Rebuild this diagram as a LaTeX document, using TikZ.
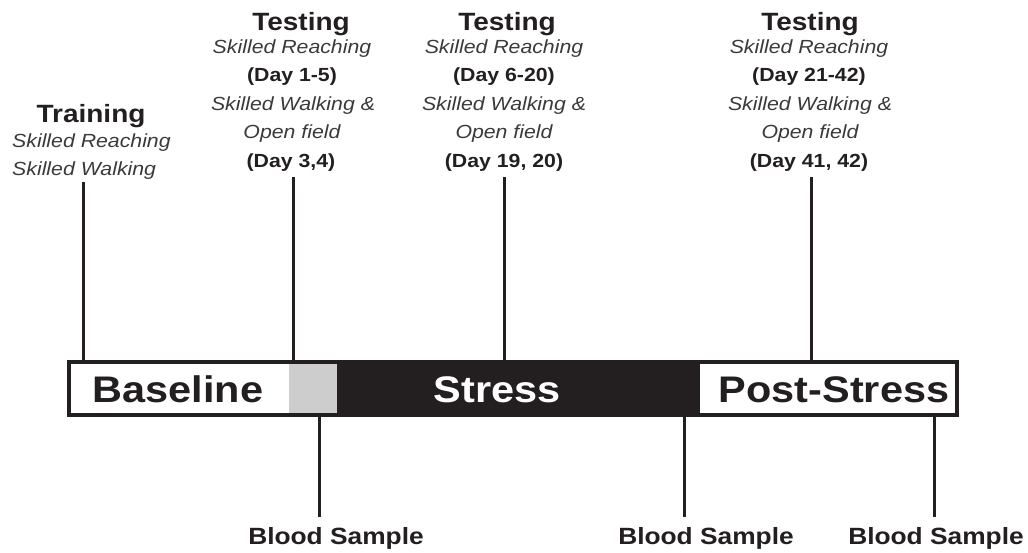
\documentclass[tikz,border=0pt]{standalone}
\usepackage{fontspec}
\setmainfont{Liberation Sans}[FakeStretch=1.12]
\definecolor{ink}{HTML}{231F20}
\definecolor{soft}{HTML}{3A3A3A}
\definecolor{pale}{HTML}{CDCDCD}

\begin{document}
\begin{tikzpicture}[x=1pt,y=-1pt]
    \tikzstyle{head}=[anchor=base,inner sep=0pt,text=ink,font=\bfseries\fontsize{25}{25}\selectfont];
    \tikzstyle{task}=[anchor=base,inner sep=0pt,text=soft,font=\itshape\fontsize{19}{19}\selectfont];
    \tikzstyle{days}=[anchor=base,inner sep=0pt,text=ink,font=\bfseries\fontsize{19}{19}\selectfont];
    \tikzstyle{phase}=[anchor=base,inner sep=0pt,text=ink,font=\bfseries\fontsize{37}{37}\selectfont];
    \tikzstyle{blood}=[anchor=base,inner sep=0pt,text=ink,font=\bfseries\fontsize{23.5}{23.5}\selectfont];
    \tikzstyle{tick}=[draw=ink,line width=3pt];

    \useasboundingbox (0,0) rectangle (1028,552);

    % the time bar
    \fill[ink] (67,360) rectangle (959,417);
    \fill[white] (71,364) rectangle (289,413);
    \fill[pale] (289,364) rectangle (337,413);
    \fill[white] (700,364) rectangle (955,413);
    \node (base) [phase] at (178,402) {Baseline};
    \node (stress) [phase,text=white] at (497,402) {Stress};
    \node (post) [phase] at (834,402) {Post-Stress};

    % training
    \node (tr) [head] at (91,122) {Training}; \node (tr1)
    [task,anchor=base west] at (12,147) {Skilled Reaching}; \node (tr2)
    [task,anchor=base west] at (12,175) {Skilled Walking};

    % testing
    \node (t1) [head] at (301,30) {Testing}; \node (t1a) [task] at
    (292,53) {Skilled Reaching}; \node (t1b) [days] at (292,81) {(Day
    1-5)}; \node (t1c) [task] at (293,110) {Skilled Walking \&};
    \node (t1d) [task] at (292,138) {Open field}; \node (t1e) [days]
    at (291,167) {(Day 3,4)};

    \node (t2) [head] at (507,30) {Testing}; \node (t2a) [task] at
    (504,53) {Skilled Reaching}; \node (t2b) [days] at (504,81) {(Day
    6-20)}; \node (t2c) [task] at (504,110) {Skilled Walking \&};
    \node (t2d) [task] at (504,138) {Open field}; \node (t2e) [days]
    at (504,167) {(Day 19, 20)};

    \node (t3) [head] at (810,30) {Testing}; \node (t3a) [task] at
    (809,53) {Skilled Reaching}; \node (t3b) [days] at (809,81) {(Day
    21-42)}; \node (t3c) [task] at (810,110) {Skilled Walking \&};
    \node (t3d) [task] at (810,138) {Open field}; \node (t3e) [days]
    at (809,167) {(Day 41, 42)};

    % blood samples
    \node (b1) [blood] at (336,544) {Blood Sample}; \node (b2) [blood]
    at (706,544) {Blood Sample}; \node (b3) [blood] at (936,544)
    {Blood Sample};

    % ticks
    \coordinate (trt) at (83,182); \coordinate (trb) at (83,360);
    \coordinate (t1t) at (293,177); \coordinate (t1b) at (293,360);
    \coordinate (t2t) at (504,177); \coordinate (t2b) at (504,360);
    \coordinate (t3t) at (811,177); \coordinate (t3b) at (811,360);
    \coordinate (b1t) at (319,417); \coordinate (b1b) at (319,517);
    \coordinate (b2t) at (684,417); \coordinate (b2b) at (684,517);
    \coordinate (b3t) at (934,417); \coordinate (b3b) at (934,517);

    \path[tick] (trt) edge (trb) (t1t) edge (t1b) (t2t) edge (t2b)
    (t3t) edge (t3b) (b1t) edge (b1b) (b2t) edge (b2b) (b3t) edge
    (b3b);
  \end{tikzpicture}
\end{document}
